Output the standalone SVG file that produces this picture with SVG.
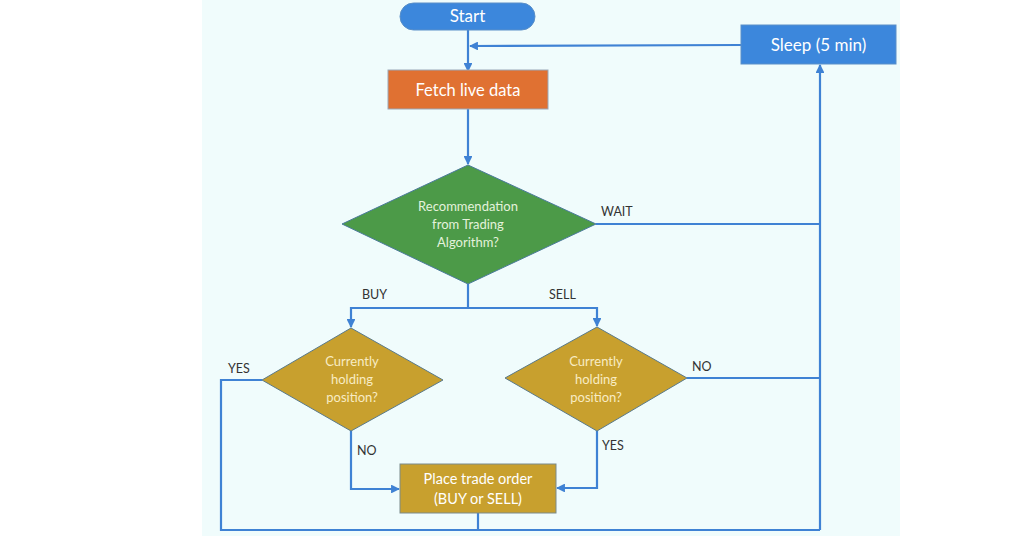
<svg xmlns="http://www.w3.org/2000/svg" width="1024" height="536" viewBox="0 0 1024 536">
<style>
.bg{fill:#ffffff}
.panel{fill:#f0fcfc}
.ln{fill:none;stroke:#3f82d4;stroke-width:2.2}
.t{font-family:Lato,"Liberation Sans",sans-serif;fill:#ffffff;text-anchor:middle}
.lbl{font-family:Lato,"Liberation Sans",sans-serif;font-size:12.5px;fill:#333333}
.dtxt{font-family:Lato,"Liberation Sans",sans-serif;font-size:13px;text-anchor:middle}
</style>
<defs>
<marker id="ah" viewBox="0 0 10 10" refX="9" refY="5" markerWidth="4" markerHeight="4" orient="auto" markerUnits="strokeWidth">
<path d="M0,0 L10,5 L0,10 z" fill="#3f82d4"/>
</marker>
</defs>
<rect class="bg" x="0" y="0" width="1024" height="536"/>
<rect class="panel" x="202" y="0" width="698" height="536"/>

<g id="connectors">
<path class="ln" d="M468,30 V71" marker-end="url(#ah)"/>
<path class="ln" d="M741,45 L470,46" marker-end="url(#ah)"/>
<path class="ln" d="M468,109 V164" marker-end="url(#ah)"/>
<path class="ln" d="M596,224 H820"/>
<path class="ln" d="M820,530 V65" marker-end="url(#ah)"/>
<path class="ln" d="M468,284 V308"/>
<path class="ln" d="M468,308 H351 V327" marker-end="url(#ah)"/>
<path class="ln" d="M468,308 H597 V326" marker-end="url(#ah)"/>
<path class="ln" d="M262,380 H221 V530 H820"/>
<path class="ln" d="M351,431 V489 H399" marker-end="url(#ah)"/>
<path class="ln" d="M597,431 V488 H557" marker-end="url(#ah)"/>
<path class="ln" d="M687,378 H820"/>
<path class="ln" d="M478,513 V530"/>
<text class="lbl" x="601" y="216">WAIT</text>
<text class="lbl" x="362" y="299">BUY</text>
<text class="lbl" x="549" y="299">SELL</text>
<text class="lbl" x="228" y="373">YES</text>
<text class="lbl" x="357" y="455">NO</text>
<text class="lbl" x="602" y="450">YES</text>
<text class="lbl" x="692" y="371">NO</text>
</g>

<g id="start">
<rect x="400" y="3" width="135" height="27" rx="13.5" fill="#3c87dc" stroke="#5a8fc8" stroke-width="1"/>
<text class="t" x="467.5" y="22" font-size="17">Start</text>
</g>

<g id="sleep">
<rect x="741" y="25" width="155" height="39" fill="#3c87dc" stroke="#5a8fc8" stroke-width="1"/>
<text class="t" x="818.5" y="51" font-size="17">Sleep (5 min)</text>
</g>

<g id="fetch">
<rect x="388" y="70" width="160" height="39" fill="#e07132" stroke="#9aa8b8" stroke-width="1"/>
<text class="t" x="468" y="96" font-size="16.5">Fetch live data</text>
</g>

<g id="recommendation">
<polygon points="468,165 596,224 468,284 342,224" fill="#4c9a48" stroke="#4a7a9a" stroke-width="1"/>
<text class="dtxt" fill="#e4f2dc" x="468" y="211">Recommendation</text>
<text class="dtxt" fill="#e4f2dc" x="468" y="229">from Trading</text>
<text class="dtxt" fill="#e4f2dc" x="468" y="247">Algorithm?</text>
</g>

<g id="holding-buy">
<polygon points="351,328 443,380 351,431 262,380" fill="#c8a02e" stroke="#5a7a8a" stroke-width="1"/>
<text class="dtxt" fill="#f8ecc4" x="352" y="366">Currently</text>
<text class="dtxt" fill="#f8ecc4" x="352" y="384">holding</text>
<text class="dtxt" fill="#f8ecc4" x="352" y="402">position?</text>
</g>

<g id="holding-sell">
<polygon points="597,327 687,378 597,431 505,378" fill="#c8a02e" stroke="#5a7a8a" stroke-width="1"/>
<text class="dtxt" fill="#f8ecc4" x="596" y="366">Currently</text>
<text class="dtxt" fill="#f8ecc4" x="596" y="384">holding</text>
<text class="dtxt" fill="#f8ecc4" x="596" y="402">position?</text>
</g>

<g id="place-order">
<rect x="400" y="464" width="156" height="49" fill="#c8a02e" stroke="#7a8a8a" stroke-width="1"/>
<text class="t" x="478" y="484" font-size="14.5" fill="#f8ecc4">Place trade order</text>
<text class="t" x="478" y="504" font-size="14.5" fill="#f8ecc4">(BUY or SELL)</text>
</g>
</svg>
